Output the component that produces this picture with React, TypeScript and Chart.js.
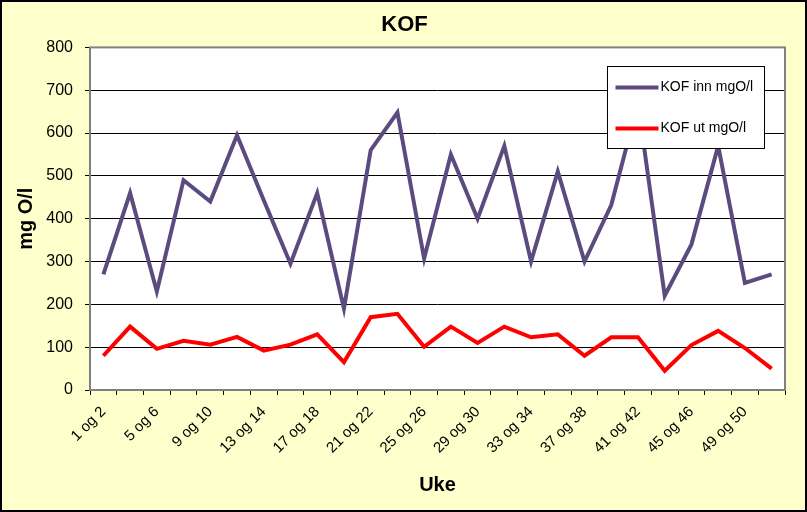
import React, { useEffect, useRef } from "react";
import { Chart, registerables } from "chart.js";

Chart.register(...registerables);

const categories = [
  "1 og 2", "3 og 4", "5 og 6", "7 og 8", "9 og 10", "11 og 12", "13 og 14",
  "15 og 16", "17 og 18", "19 og 20", "21 og 22", "23 og 24", "25 og 26",
  "27 og 28", "29 og 30", "31 og 32", "33 og 34", "35 og 36", "37 og 38",
  "39 og 40", "41 og 42", "43 og 44", "45 og 46", "47 og 48", "49 og 50", "51 og 52",
];

const kofInn = [
  270, 460, 230, 490, 440, 595, 443, 295, 460, 190, 560, 648, 307,
  550, 400, 570, 300, 510, 300, 432, 670, 220, 340, 570, 250, 270,
];

const kofUt = [
  80, 148, 96, 115, 106, 124, 92, 106, 130, 65, 170, 178, 101,
  148, 110, 148, 123, 130, 80, 123, 123, 45, 105, 138, 98, 50,
];

const seriesLabels = ["KOF inn mgO/l", "KOF ut mgO/l"];
const yMin = 0;
const yMax = 800;
const yStep = 100;

const FONT = "Arial, 'Liberation Sans', sans-serif";

export default function App() {
  const ref = useRef<HTMLCanvasElement | null>(null);

  useEffect(() => {
    document.body.style.margin = "0";
    const canvas = ref.current;
    if (!canvas) return;

    const decor = {
      id: "decor",
      beforeDraw(chart: any) {
        const { ctx, chartArea: a } = chart;
        ctx.save();
        ctx.fillStyle = "#FFFFCC";
        ctx.fillRect(0, 0, chart.width, chart.height);
        ctx.fillStyle = "#FFFFFF";
        ctx.fillRect(a.left, a.top, a.right - a.left, a.bottom - a.top);
        ctx.strokeStyle = "#000000";
        ctx.lineWidth = 2;
        ctx.strokeRect(1, 1, chart.width - 2, chart.height - 2);
        ctx.restore();
      },
      beforeDatasetsDraw(chart: any) {
        const { ctx, chartArea: a } = chart;
        ctx.save();
        ctx.strokeStyle = "#808080";
        ctx.lineWidth = 2;
        ctx.strokeRect(a.left, a.top, a.right - a.left, a.bottom - a.top);
        ctx.restore();
      },
      afterDraw(chart: any) {
        const { ctx, chartArea: a } = chart;
        const x = Math.round(a.right - 178) + 0.5;
        const y = Math.round(a.top + 19) + 0.5;
        const w = 157;
        const h = 82;
        ctx.save();
        ctx.fillStyle = "#FFFFFF";
        ctx.fillRect(x, y, w, h);
        ctx.strokeStyle = "#000000";
        ctx.lineWidth = 1;
        ctx.strokeRect(x, y, w, h);
        chart.data.datasets.forEach((ds: any, i: number) => {
          const ly = y + 21 + i * 41;
          ctx.strokeStyle = ds.borderColor;
          ctx.lineWidth = 4;
          ctx.beginPath();
          ctx.moveTo(x + 8, ly);
          ctx.lineTo(x + 51, ly);
          ctx.stroke();
          ctx.fillStyle = "#000000";
          ctx.font = `14px ${FONT}`;
          ctx.textBaseline = "middle";
          ctx.textAlign = "left";
          ctx.fillText(ds.label, x + 53, ly);
        });
        ctx.restore();
      },
    };

    const chart = new Chart(canvas, {
      type: "line",
      data: {
        labels: categories,
        datasets: [
          {
            label: seriesLabels[0],
            data: kofInn,
            borderColor: "#5B4B7E",
            backgroundColor: "#5B4B7E",
            borderWidth: 4,
            pointRadius: 0,
            pointHoverRadius: 0,
            tension: 0,
            fill: false,
          },
          {
            label: seriesLabels[1],
            data: kofUt,
            borderColor: "#FF0000",
            backgroundColor: "#FF0000",
            borderWidth: 4,
            pointRadius: 0,
            pointHoverRadius: 0,
            tension: 0,
            fill: false,
          },
        ],
      },
      options: {
        responsive: false,
        animation: false,
        events: [],
        layout: { padding: { left: 24, right: 22, top: 0, bottom: 0 } },
        plugins: {
          legend: { display: false },
          tooltip: { enabled: false },
          title: {
            display: true,
            text: "KOF",
            color: "#000000",
            font: { family: FONT, size: 22, weight: "bold" },
            padding: { top: 12, bottom: 9 },
          },
        },
        scales: {
          x: {
            type: "category",
            offset: true,
            afterFit(scale: any) {
              scale.height = 122;
            },
            grid: {
              offset: true,
              drawOnChartArea: false,
              drawTicks: true,
              tickLength: 5,
              color: "#000000",
              lineWidth: 1,
            },
            border: { display: false },
            ticks: {
              autoSkip: false,
              minRotation: 45,
              maxRotation: 45,
              color: "#000000",
              font: { family: FONT, size: 15 },
              padding: 8,
              callback: (_v: any, i: number) => (i % 2 === 0 ? categories[i] : ""),
            },
            title: {
              display: true,
              text: "Uke",
              color: "#000000",
              font: { family: FONT, size: 20, weight: "bold" },
              padding: { top: 4, bottom: 14.5 },
            },
          },
          y: {
            min: yMin,
            max: yMax,
            afterFit(scale: any) {
              scale.width = 66;
            },
            grid: {
              drawOnChartArea: true,
              drawTicks: true,
              tickLength: 5,
              color: "#000000",
              lineWidth: 1,
            },
            border: { display: false },
            ticks: {
              stepSize: yStep,
              color: "#000000",
              font: { family: FONT, size: 16 },
              padding: 12,
            },
            title: {
              display: true,
              text: "mg O/l",
              color: "#000000",
              font: { family: FONT, size: 20, weight: "bold" },
              padding: { top: -9.3, bottom: 0 },
            },
          },
        },
      },
      plugins: [decor],
    } as any);

    return () => chart.destroy();
  }, []);

  return (
    <canvas
      ref={ref}
      width={807}
      height={512}
      style={{ display: "block", width: "807px", height: "512px" }}
    />
  );
}
